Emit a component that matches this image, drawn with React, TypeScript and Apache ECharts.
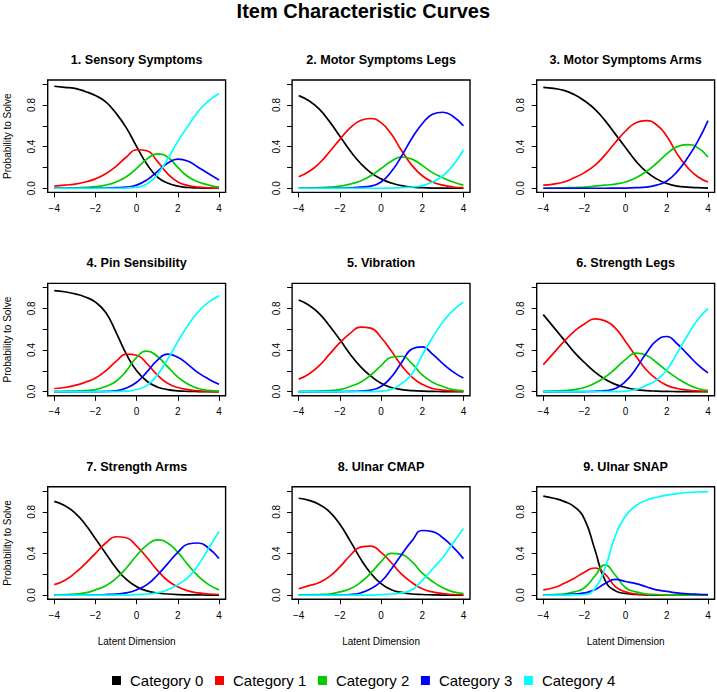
import React, { useEffect, useRef } from "react";
import * as echarts from "echarts";

// ---------- data ----------
const THETA = [-4, -3.5, -3, -2.5, -2, -1.5, -1, -0.5, 0, 0.5, 1, 1.5, 2, 2.5, 3, 3.5, 4];
const CATEGORIES = ["Category 0", "Category 1", "Category 2", "Category 3", "Category 4"];
const PANEL_TITLES = [
  "1. Sensory Symptoms",
  "2. Motor Symptoms Legs",
  "3. Motor Symptoms Arms",
  "4. Pin Sensibility",
  "5. Vibration",
  "6. Strength Legs",
  "7. Strength Arms",
  "8. Ulnar CMAP",
  "9. Ulnar SNAP",
];
const X_TICKS = [-4, -2, 0, 2, 4];
const Y_TICKS = [0, 0.2, 0.4, 0.6, 0.8, 1];
const Y_LABELS = [0, 0.4, 0.8];

const SENSORY_SYMPTOMS = [
  [0.98, 0.97, 0.96, 0.93, 0.89, 0.83, 0.72, 0.58, 0.4, 0.23, 0.11, 0.05, 0.02, 0.007, 0.003, 0.001, 0],
  [0.02, 0.03, 0.04, 0.06, 0.09, 0.14, 0.21, 0.3, 0.37, 0.36, 0.26, 0.14, 0.06, 0.025, 0.01, 0.004, 0.001],
  [0, 0.002, 0.004, 0.008, 0.015, 0.03, 0.06, 0.11, 0.19, 0.28, 0.33, 0.3, 0.2, 0.11, 0.06, 0.03, 0.01],
  [0, 0, 0, 0, 0.001, 0.002, 0.005, 0.01, 0.03, 0.08, 0.16, 0.24, 0.28, 0.26, 0.2, 0.14, 0.08],
  [0, 0, 0, 0, 0, 0, 0, 0.002, 0.01, 0.04, 0.13, 0.28, 0.45, 0.6, 0.74, 0.84, 0.91],
];
const MOTOR_LEGS = [
  [0.89, 0.84, 0.76, 0.64, 0.5, 0.36, 0.24, 0.15, 0.09, 0.05, 0.025, 0.01, 0.005, 0.002, 0.001, 0, 0],
  [0.11, 0.16, 0.24, 0.35, 0.47, 0.58, 0.65, 0.67, 0.63, 0.52, 0.36, 0.22, 0.12, 0.06, 0.03, 0.012, 0.005],
  [0, 0.002, 0.005, 0.01, 0.02, 0.04, 0.07, 0.12, 0.19, 0.26, 0.3, 0.28, 0.22, 0.15, 0.1, 0.06, 0.03],
  [0, 0, 0, 0, 0.001, 0.003, 0.01, 0.02, 0.06, 0.16, 0.31, 0.48, 0.62, 0.71, 0.73, 0.69, 0.6],
  [0, 0, 0, 0, 0, 0, 0, 0, 0, 0.002, 0.006, 0.012, 0.025, 0.06, 0.12, 0.22, 0.37],
];
const MOTOR_ARMS = [
  [0.97, 0.96, 0.94, 0.9, 0.84, 0.76, 0.65, 0.52, 0.39, 0.26, 0.16, 0.09, 0.045, 0.02, 0.01, 0.005, 0.002],
  [0.03, 0.04, 0.06, 0.1, 0.15, 0.22, 0.32, 0.44, 0.55, 0.63, 0.65, 0.61, 0.5, 0.33, 0.2, 0.11, 0.06],
  [0, 0.002, 0.004, 0.007, 0.01, 0.02, 0.03, 0.04, 0.06, 0.1, 0.16, 0.24, 0.33, 0.4, 0.42, 0.39, 0.3],
  [0, 0, 0, 0, 0, 0, 0, 0.001, 0.002, 0.005, 0.01, 0.03, 0.07, 0.16, 0.29, 0.45, 0.65],
  [],
];
const PIN_SENSIBILITY = [
  [0.97, 0.96, 0.94, 0.91, 0.86, 0.76, 0.57, 0.36, 0.2, 0.1, 0.045, 0.02, 0.008, 0.003, 0.001, 0, 0],
  [0.03, 0.04, 0.06, 0.09, 0.13, 0.2, 0.29, 0.36, 0.35, 0.27, 0.16, 0.08, 0.04, 0.02, 0.008, 0.003, 0.001],
  [0, 0.002, 0.005, 0.01, 0.02, 0.05, 0.1, 0.2, 0.33, 0.39, 0.34, 0.24, 0.14, 0.07, 0.03, 0.012, 0.005],
  [0, 0, 0, 0, 0, 0.002, 0.008, 0.035, 0.09, 0.19, 0.3, 0.36, 0.33, 0.26, 0.18, 0.12, 0.07],
  [0, 0, 0, 0, 0, 0, 0, 0.004, 0.02, 0.06, 0.16, 0.31, 0.48, 0.64, 0.77, 0.86, 0.92],
];
const VIBRATION = [
  [0.88, 0.83, 0.75, 0.63, 0.5, 0.36, 0.24, 0.15, 0.08, 0.04, 0.02, 0.01, 0.004, 0.002, 0.001, 0, 0],
  [0.12, 0.17, 0.25, 0.36, 0.47, 0.56, 0.62, 0.61, 0.52, 0.39, 0.25, 0.14, 0.07, 0.03, 0.015, 0.006, 0.003],
  [0, 0.002, 0.005, 0.01, 0.02, 0.05, 0.09, 0.16, 0.25, 0.33, 0.34, 0.27, 0.16, 0.09, 0.05, 0.02, 0.01],
  [0, 0, 0, 0, 0.001, 0.002, 0.006, 0.015, 0.05, 0.14, 0.28, 0.41, 0.43, 0.36, 0.27, 0.19, 0.13],
  [0, 0, 0, 0, 0, 0, 0, 0, 0.005, 0.02, 0.08, 0.17, 0.35, 0.52, 0.67, 0.78, 0.86],
];
const STRENGTH_LEGS = [
  [0.74, 0.62, 0.5, 0.38, 0.28, 0.19, 0.12, 0.07, 0.04, 0.02, 0.01, 0.005, 0.002, 0.001, 0, 0, 0],
  [0.26, 0.37, 0.48, 0.58, 0.65, 0.7, 0.68, 0.61, 0.48, 0.34, 0.21, 0.12, 0.06, 0.03, 0.015, 0.006, 0.002],
  [0, 0.004, 0.01, 0.02, 0.04, 0.08, 0.14, 0.22, 0.31, 0.37, 0.35, 0.28, 0.2, 0.13, 0.07, 0.03, 0.012],
  [0, 0, 0, 0, 0.001, 0.003, 0.01, 0.03, 0.1, 0.22, 0.37, 0.49, 0.53, 0.46, 0.36, 0.26, 0.18],
  [0, 0, 0, 0, 0, 0, 0, 0, 0.005, 0.02, 0.06, 0.11, 0.21, 0.37, 0.54, 0.69, 0.8],
];
const STRENGTH_ARMS = [
  [0.9, 0.86, 0.79, 0.68, 0.54, 0.4, 0.26, 0.15, 0.08, 0.04, 0.02, 0.01, 0.004, 0.002, 0.001, 0, 0],
  [0.1, 0.14, 0.21, 0.3, 0.4, 0.5, 0.56, 0.55, 0.47, 0.36, 0.24, 0.14, 0.08, 0.04, 0.02, 0.01, 0.005],
  [0, 0.004, 0.01, 0.02, 0.05, 0.09, 0.16, 0.26, 0.38, 0.48, 0.53, 0.5, 0.41, 0.29, 0.18, 0.1, 0.05],
  [0, 0, 0, 0, 0.002, 0.005, 0.01, 0.02, 0.05, 0.1, 0.19, 0.3, 0.41, 0.49, 0.5, 0.45, 0.35],
  [0, 0, 0, 0, 0, 0, 0, 0, 0.005, 0.01, 0.02, 0.05, 0.1, 0.17, 0.29, 0.45, 0.61],
];
const ULNAR_CMAP = [
  [0.93, 0.91, 0.87, 0.8, 0.68, 0.52, 0.35, 0.21, 0.11, 0.05, 0.025, 0.01, 0.005, 0.002, 0, 0, 0],
  [0.06, 0.09, 0.12, 0.18, 0.27, 0.38, 0.46, 0.47, 0.41, 0.31, 0.2, 0.12, 0.06, 0.03, 0.015, 0.005, 0.002],
  [0, 0.003, 0.005, 0.01, 0.03, 0.06, 0.12, 0.21, 0.32, 0.4, 0.39, 0.32, 0.21, 0.13, 0.07, 0.03, 0.015],
  [0, 0, 0, 0, 0.002, 0.005, 0.02, 0.06, 0.13, 0.25, 0.39, 0.52, 0.62, 0.61, 0.55, 0.46, 0.35],
  [0, 0, 0, 0, 0, 0, 0, 0, 0.005, 0.01, 0.02, 0.05, 0.14, 0.25, 0.36, 0.5, 0.64],
];
const ULNAR_SNAP = [
  [0.95, 0.93, 0.9, 0.85, 0.73, 0.44, 0.14, 0.04, 0.015, 0.005, 0.002, 0, 0, 0, 0, 0, 0],
  [0.05, 0.07, 0.11, 0.16, 0.22, 0.26, 0.2, 0.08, 0.03, 0.01, 0.005, 0.002, 0, 0, 0, 0, 0],
  [0, 0.005, 0.01, 0.03, 0.07, 0.18, 0.29, 0.19, 0.07, 0.03, 0.01, 0.005, 0.002, 0, 0, 0, 0],
  [0, 0, 0.003, 0.01, 0.02, 0.05, 0.11, 0.15, 0.13, 0.11, 0.08, 0.05, 0.035, 0.02, 0.012, 0.007, 0.004],
  [0, 0, 0, 0.002, 0.005, 0.06, 0.26, 0.57, 0.76, 0.86, 0.91, 0.94, 0.96, 0.975, 0.985, 0.99, 0.993],
];
const PANELS = [
  SENSORY_SYMPTOMS, MOTOR_LEGS, MOTOR_ARMS,
  PIN_SENSIBILITY, VIBRATION, STRENGTH_LEGS,
  STRENGTH_ARMS, ULNAR_CMAP, ULNAR_SNAP,
];

// ---------- styling / layout ----------
const COLORS = ["#000000", "#FF0000", "#00CD00", "#0000FF", "#00FFFF"];
const FONT = "'Liberation Sans', Arial, Helvetica, sans-serif";
const COL_LEFT = [47.7, 292.1, 536.7];
const ROW_TOP = [80.0, 283.4, 486.8];
const BOX_W = 177.9;
const BOX_H = 112.4;
const TITLE_Y = [60, 263.4, 466.8];

const minus = (v: number) => (v < 0 ? "\u2212" + String(-v) : String(v));

export default function App() {
  const ref = useRef<HTMLDivElement>(null);

  useEffect(() => {
    if (!ref.current) return;
    const chart = echarts.init(ref.current, undefined, { renderer: "svg" });

    const grids: any[] = [];
    const xAxes: any[] = [];
    const yAxes: any[] = [];
    const series: any[] = [];
    const graphics: any[] = [];

    PANELS.forEach((panel, i) => {
      const r = Math.floor(i / 3);
      const c = i % 3;
      const left = COL_LEFT[c];
      const top = ROW_TOP[r];
      grids.push({
        left, top, width: BOX_W, height: BOX_H,
        show: true, borderColor: "#000", borderWidth: 1.4, backgroundColor: "transparent",
        containLabel: false,
      });
      xAxes.push({
        type: "value", gridIndex: i, min: -4.32, max: 4.32, position: "bottom",
        axisLine: { show: false, onZero: false },
        axisTick: { show: true, length: 5, customValues: X_TICKS, lineStyle: { color: "#000", width: 1 } },
        axisLabel: {
          customValues: X_TICKS, margin: 11, fontSize: 10, color: "#000", fontFamily: FONT,
          formatter: (v: number) => minus(v),
        },
        splitLine: { show: false },
      });
      yAxes.push({
        type: "value", gridIndex: i, min: -0.04, max: 1.04, position: "left",
        axisLine: { show: false, onZero: false },
        axisTick: { show: true, length: 5, customValues: Y_TICKS, lineStyle: { color: "#000", width: 1 } },
        axisLabel: {
          customValues: Y_LABELS, rotate: 90, margin: 11, fontSize: 10, color: "#000", fontFamily: FONT,
          formatter: (v: number) => v.toFixed(1),
        },
        splitLine: { show: false },
      });
      panel.forEach((vals, k) => {
        if (!vals.length) return;
        series.push({
          type: "line", name: CATEGORIES[k], xAxisIndex: i, yAxisIndex: i,
          data: THETA.map((t, j) => [t, vals[j]]),
          smooth: 0.5, symbol: "none", showSymbol: false,
          lineStyle: { color: COLORS[k], width: 1.7 },
          itemStyle: { color: COLORS[k] },
          emphasis: { disabled: true },
        });
      });
      graphics.push({
        type: "text", x: left + BOX_W / 2, y: TITLE_Y[r],
        style: {
          text: PANEL_TITLES[i], fontSize: 12.6, fontWeight: "bold", fontFamily: FONT,
          fill: "#000", align: "center", verticalAlign: "middle",
        },
      });
      if (c === 0) {
        graphics.push({
          type: "text", x: 7.5, y: top + BOX_H / 2, rotation: Math.PI / 2,
          style: {
            text: "Probability to Solve", fontSize: 10, fontFamily: FONT,
            fill: "#000", align: "center", verticalAlign: "middle",
          },
        });
      }
      if (r === 2) {
        graphics.push({
          type: "text", x: left + BOX_W / 2, y: 641.5,
          style: {
            text: "Latent Dimension", fontSize: 10, fontFamily: FONT,
            fill: "#000", align: "center", verticalAlign: "middle",
          },
        });
      }
    });

    graphics.push({
      type: "text", x: 363.3, y: 11,
      style: {
        text: "Item Characteristic Curves", fontSize: 20, fontWeight: "bold", fontFamily: FONT,
        fill: "#000", align: "center", verticalAlign: "middle",
      },
    });

    chart.setOption({
      animation: false,
      backgroundColor: "#ffffff",
      grid: grids,
      xAxis: xAxes,
      yAxis: yAxes,
      series,
      legend: {
        data: CATEGORIES,
        left: 112, top: 673, padding: 0,
        icon: "rect", itemWidth: 9, itemHeight: 9, itemGap: 11.6,
        selectedMode: false,
        itemStyle: { borderWidth: 0 },
        textStyle: { fontSize: 15, color: "#000", fontFamily: FONT, padding: [0, 0, 0, 4] },
      },
      graphic: graphics,
    });

    return () => chart.dispose();
  }, []);

  return (
    <div
      ref={ref}
      style={{ position: "fixed", left: 0, top: 0, width: 717, height: 692, background: "#fff" }}
    />
  );
}
